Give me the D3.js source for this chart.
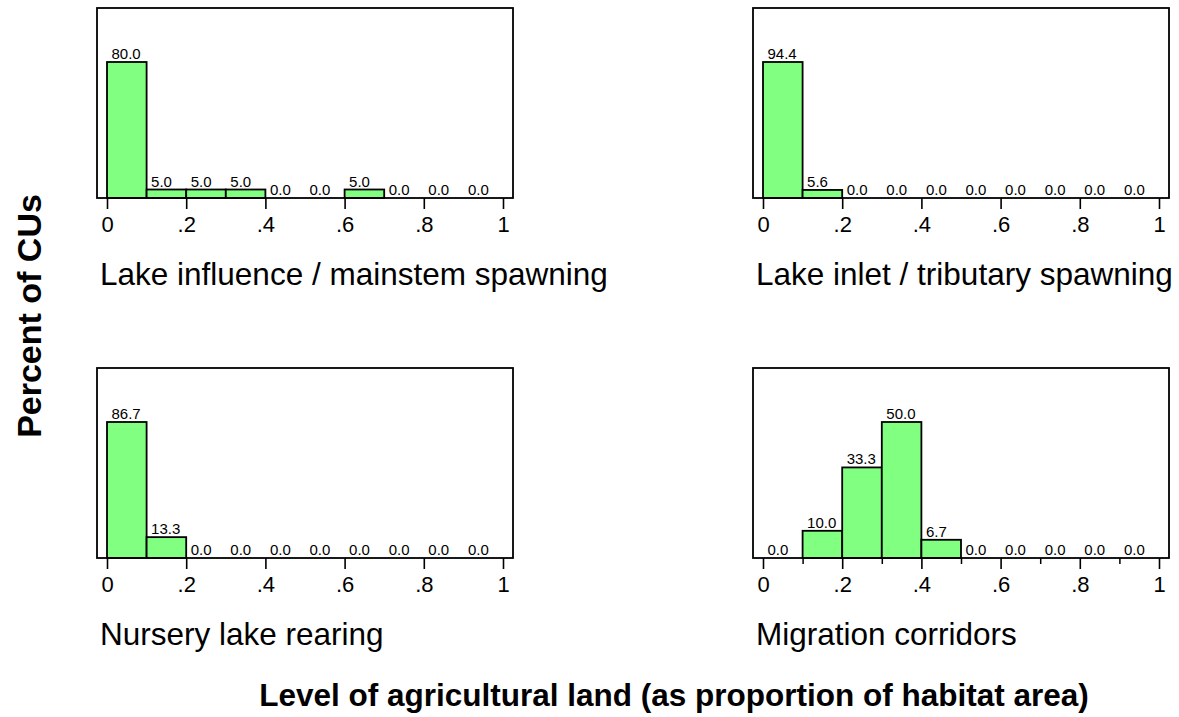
<!DOCTYPE html>
<html>
<head>
<meta charset="utf-8">
<script src="https://cdn.jsdelivr.net/npm/d3@7"></script>
<style>
  html, body { margin: 0; padding: 0; background: #fff; }
  text { font-family: "Liberation Sans", Arial, sans-serif; fill: #000; }
</style>
</head>
<body>
<svg id="chart" width="1179" height="717"></svg>
<script>
// ---- data ----
const binEdges = [0, 0.1, 0.2, 0.3, 0.4, 0.5, 0.6, 0.7, 0.8, 0.9, 1.0];
const tickValues = [0, 0.2, 0.4, 0.6, 0.8, 1];
const tickLabels = ["0", ".2", ".4", ".6", ".8", "1"];
const panelTitles = [
  "Lake influence / mainstem spawning",
  "Lake inlet / tributary spawning",
  "Nursery lake rearing",
  "Migration corridors"
];
const lakeInfluence = [80.0, 5.0, 5.0, 5.0, 0.0, 0.0, 5.0, 0.0, 0.0, 0.0];
const lakeInlet     = [94.4, 5.6, 0.0, 0.0, 0.0, 0.0, 0.0, 0.0, 0.0, 0.0];
const nurseryLake   = [86.7, 13.3, 0.0, 0.0, 0.0, 0.0, 0.0, 0.0, 0.0, 0.0];
const migration     = [0.0, 10.0, 33.3, 50.0, 6.7, 0.0, 0.0, 0.0, 0.0, 0.0];
const seriesList = [lakeInfluence, lakeInlet, nurseryLake, migration];
const yTitle = "Percent of CUs";
const xTitle = "Level of agricultural land (as proportion of habitat area)";

// ---- layout ----
const svg = d3.select("#chart");
const panels = [
  { fx0: 97,  fx1: 513,  fy0: 8,   fy1: 198, minor: false },
  { fx0: 753, fx1: 1169, fy0: 8,   fy1: 198, minor: false },
  { fx0: 97,  fx1: 513,  fy0: 368, fy1: 558, minor: false },
  { fx0: 753, fx1: 1169, fy0: 368, fy1: 558, minor: true }
];
const barFill = "#80ff80";

panels.forEach((p, i) => {
  const data = seriesList[i];
  const g = svg.append("g");
  const x = d3.scaleLinear().domain([0, 1]).range([p.fx0 + 10, p.fx1 - 10]);
  const maxV = d3.max(data);
  const y = d3.scaleLinear().domain([0, maxV]).range([p.fy1, p.fy1 - 136]);

  const bins = data.map((v, k) => ({ v, x0: binEdges[k], x1: binEdges[k + 1] }));

  // bars
  g.selectAll("rect.bar").data(bins.filter(d => d.v > 0)).join("rect")
    .attr("class", "bar")
    .attr("x", d => x(d.x0))
    .attr("y", d => y(d.v))
    .attr("width", d => x(d.x1) - x(d.x0))
    .attr("height", d => y(0) - y(d.v))
    .attr("fill", barFill)
    .attr("stroke", "#000")
    .attr("stroke-width", 1.8);

  // value labels
  g.selectAll("text.val").data(bins).join("text")
    .attr("class", "val")
    .attr("x", d => x(d.x0) + 4.5)
    .attr("y", d => y(d.v) - 3)
    .attr("font-size", 15)
    .text(d => d.v.toFixed(1));

  // frame
  g.append("rect")
    .attr("x", p.fx0).attr("y", p.fy0)
    .attr("width", p.fx1 - p.fx0).attr("height", p.fy1 - p.fy0)
    .attr("fill", "none").attr("stroke", "#000").attr("stroke-width", 1.8);

  // axis
  const axis = d3.axisBottom(x)
    .tickValues(tickValues)
    .tickFormat((d, k) => tickLabels[k])
    .tickSize(11)
    .tickPadding(7);
  const ag = g.append("g").attr("transform", `translate(0,${p.fy1})`).call(axis);
  ag.select(".domain").remove();
  ag.selectAll(".tick line").attr("stroke", "#000").attr("stroke-width", 1.6);
  ag.selectAll(".tick text")
    .attr("font-size", 22)
    .attr("font-family", "Liberation Sans, Arial, sans-serif")
    .attr("fill", "#000");

  if (p.minor) {
    const minorAxis = d3.axisBottom(x)
      .tickValues([0.1, 0.3, 0.5, 0.7, 0.9])
      .tickFormat("")
      .tickSize(6);
    const mg = g.append("g").attr("transform", `translate(0,${p.fy1})`).call(minorAxis);
    mg.select(".domain").remove();
    mg.selectAll(".tick line").attr("stroke", "#000").attr("stroke-width", 1.5);
  }

  // panel title
  g.append("text")
    .attr("x", p.fx0 + 3)
    .attr("y", p.fy1 + 87)
    .attr("font-size", 31.5)
    .text(panelTitles[i]);
});

// y title
svg.append("text")
  .attr("transform", "translate(41,316) rotate(-90)")
  .attr("text-anchor", "middle")
  .attr("font-size", 34)
  .attr("font-weight", "bold")
  .text(yTitle);

// x title
svg.append("text")
  .attr("x", 674)
  .attr("y", 706)
  .attr("text-anchor", "middle")
  .attr("font-size", 31.5)
  .attr("font-weight", "bold")
  .text(xTitle);
</script>
</body>
</html>
